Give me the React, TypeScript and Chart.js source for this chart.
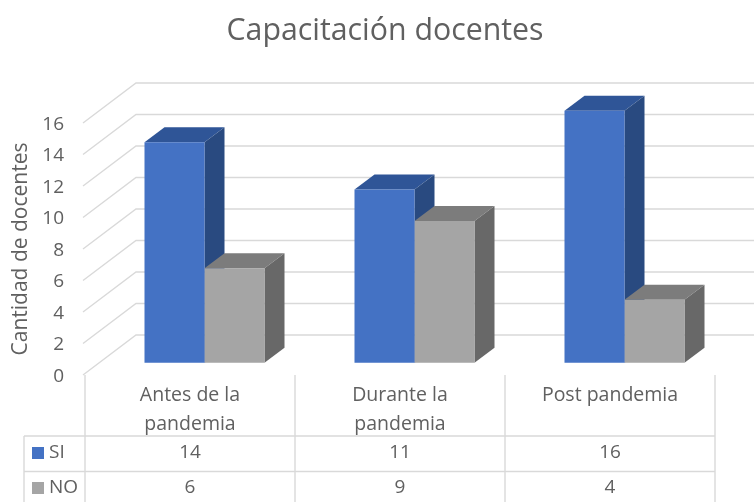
import React, { useEffect, useRef } from "react";
import { Chart, registerables } from "chart.js";

Chart.register(...registerables);

const titleText = "Capacitación docentes";
const yAxisTitle = "Cantidad de docentes";
const categories = [["Antes de la", "pandemia"], ["Durante la", "pandemia"], ["Post pandemia"]];
const siValues = [14, 11, 16];
const noValues = [6, 9, 4];
const seriesNames = ["SI", "NO"];
const yTicks = [0, 2, 4, 6, 8, 10, 12, 14, 16];

const FONT = '"Open Sans", "Noto Sans", sans-serif';
const TEXT = "#606060";
const GRID = "#D9D9D9";
const faces: Record<string, { front: string; top: string; side: string }> = {
  SI: { front: "#4472C4", top: "#2F5597", side: "#294A80" },
  NO: { front: "#A5A5A5", top: "#7C7C7C", side: "#686868" },
};
// oblique projection of the 3D box
const WALL = { dx: 51, dy: -40 };
const BAR_SHIFT = { dx: 14.5, dy: -12.3 };
const BAR_DEPTH = { dx: 20, dy: -15 };
const TABLE = { left: 24, top: 436, mid: 471.5, bottom: 502, text1: 453, text2: 488 };

const box3d = {
  id: "box3d",
  afterLayout(chart: any) {
    // the title is centred over the whole plot including its depth
    chart.titleBlock.left = 16;
    chart.titleBlock.right = 754;
  },
  beforeDraw(chart: any) {
    // value labels sit slightly lower than the metric middle of the font
    for (const item of chart.scales.y.getLabelItems()) {
      item.options.translation[1] += 1.5;
    }
  },
  beforeDatasetsDraw(chart: any) {
    const { ctx, scales, chartArea } = chart;
    const y = scales.y;
    ctx.save();
    ctx.strokeStyle = GRID;
    ctx.lineWidth = 1.4;
    for (const t of yTicks) {
      const py = y.getPixelForValue(t);
      ctx.beginPath();
      ctx.moveTo(chartArea.left - 2, py);
      ctx.lineTo(chartArea.left + WALL.dx, py + WALL.dy);
      ctx.lineTo(chart.width, py + WALL.dy);
      ctx.stroke();
    }
    ctx.restore();
    // top and side faces, first series first so the second overlaps it
    chart.data.datasets.forEach((ds: any, i: number) => {
      const f = faces[ds.label];
      ctx.save();
      ctx.translate(BAR_SHIFT.dx, BAR_SHIFT.dy);
      for (const bar of chart.getDatasetMeta(i).data) {
        const p = bar.getProps(["x", "y", "base", "width"], true);
        const l = p.x - p.width / 2;
        const r = p.x + p.width / 2;
        ctx.fillStyle = f.top;
        ctx.beginPath();
        ctx.moveTo(l, p.y);
        ctx.lineTo(l + BAR_DEPTH.dx, p.y + BAR_DEPTH.dy);
        ctx.lineTo(r + BAR_DEPTH.dx, p.y + BAR_DEPTH.dy);
        ctx.lineTo(r, p.y);
        ctx.closePath();
        ctx.fill();
        ctx.fillStyle = f.side;
        ctx.beginPath();
        ctx.moveTo(r, p.y);
        ctx.lineTo(r + BAR_DEPTH.dx, p.y + BAR_DEPTH.dy);
        ctx.lineTo(r + BAR_DEPTH.dx, p.base + BAR_DEPTH.dy);
        ctx.lineTo(r, p.base);
        ctx.closePath();
        ctx.fill();
      }
      ctx.restore();
    });
  },
  beforeDatasetDraw(chart: any) {
    chart.ctx.save();
    chart.ctx.translate(BAR_SHIFT.dx, BAR_SHIFT.dy);
  },
  afterDatasetDraw(chart: any) {
    chart.ctx.restore();
  },
  afterDraw(chart: any) {
    const { ctx, scales, chartArea } = chart;
    const x = scales.x;
    const step = chartArea.width / categories.length;
    const colEdges = categories.map((_, i) => chartArea.left + i * step).concat(chartArea.right);
    ctx.save();
    ctx.strokeStyle = GRID;
    ctx.lineWidth = 1.4;
    for (const cx of colEdges) {
      ctx.beginPath();
      ctx.moveTo(cx, chartArea.bottom);
      ctx.lineTo(cx, TABLE.bottom);
      ctx.stroke();
    }
    ctx.beginPath();
    ctx.moveTo(TABLE.left, TABLE.top);
    ctx.lineTo(TABLE.left, TABLE.bottom);
    for (const ly of [TABLE.top, TABLE.mid]) {
      ctx.moveTo(TABLE.left, ly);
      ctx.lineTo(chartArea.right, ly);
    }
    ctx.stroke();

    ctx.font = `19px ${FONT}`;
    ctx.textBaseline = "middle";
    const rows = [
      { name: seriesNames[0], values: siValues, y: TABLE.text1 },
      { name: seriesNames[1], values: noValues, y: TABLE.text2 },
    ];
    for (const row of rows) {
      ctx.fillStyle = faces[row.name].front;
      ctx.fillRect(32, row.y - 6, 12, 12);
      ctx.fillStyle = TEXT;
      ctx.textAlign = "left";
      ctx.fillText(row.name, 49, row.y);
      ctx.textAlign = "center";
      row.values.forEach((v, i) => ctx.fillText(String(v), x.getPixelForValue(i), row.y));
    }
    ctx.restore();
  },
};

export default function App() {
  const ref = useRef<HTMLCanvasElement>(null);
  useEffect(() => {
    const chart = new Chart(ref.current!, {
      type: "bar",
      data: {
        labels: categories as any,
        datasets: [
          { label: seriesNames[0], data: siValues, backgroundColor: faces.SI.front, clip: false } as any,
          { label: seriesNames[1], data: noValues, backgroundColor: faces.NO.front, clip: false } as any,
        ],
      },
      options: {
        animation: false,
        responsive: false,
        layout: { padding: { top: 0, right: 39, left: 0, bottom: 0 } },
        datasets: { bar: { categoryPercentage: 120 / 210, barPercentage: 1 } },
        plugins: {
          legend: { display: false },
          tooltip: { enabled: false },
          title: {
            display: true,
            text: titleText,
            color: TEXT,
            font: { family: FONT, size: 30.3, weight: "normal", lineHeight: 1 },
            padding: { top: 16, bottom: 76.7 },
          },
        },
        scales: {
          x: {
            grid: { display: false, drawTicks: false },
            border: { display: false },
            afterFit: (s: any) => { s.height = 127; },
            ticks: {
              color: TEXT,
              font: { family: FONT, size: 19.5, lineHeight: 1.49 },
              maxRotation: 0,
              autoSkip: false,
              padding: 6,
            },
          },
          y: {
            min: 0,
            max: 16,
            grid: { display: false, drawTicks: false },
            border: { display: false },
            afterFit: (s: any) => { s.width = 85; },
            afterBuildTicks: (s: any) => { s.ticks = yTicks.map((value) => ({ value })); },
            title: {
              display: true,
              text: yAxisTitle,
              color: TEXT,
              font: { family: FONT, size: 21, weight: "normal" },
              padding: { top: 8, bottom: 0 },
            },
            ticks: { color: TEXT, font: { family: FONT, size: 19 }, padding: 21 },
          },
        },
      },
      plugins: [box3d],
    } as any);
    return () => chart.destroy();
  }, []);
  return (
    <div style={{ position: "absolute", left: 0, top: 0, width: 754, height: 502 }}>
      <canvas ref={ref} width={754} height={502} style={{ display: "block" }} />
    </div>
  );
}
